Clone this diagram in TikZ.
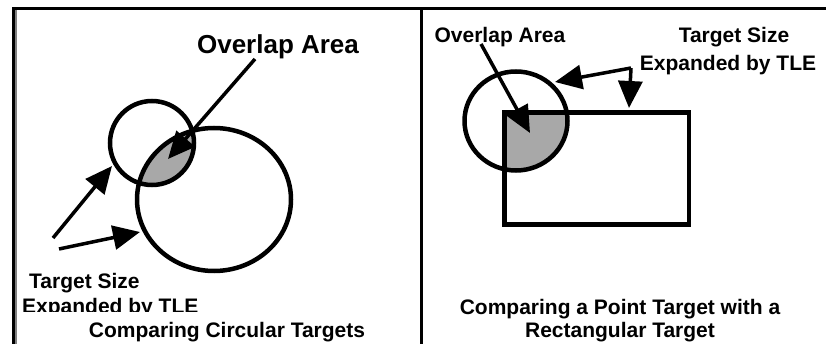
\documentclass[tikz,border=0pt]{standalone}
\usepackage{fontspec}
\setmainfont{Liberation Sans}
\usetikzlibrary{arrows.meta}
\definecolor{ovgray}{HTML}{A8A8A8}
\begin{document}
\begin{tikzpicture}[x=1pt,y=-1pt,
  lbl/.style={font=\bfseries\fontsize{21}{24}\selectfont, inner sep=0pt, anchor=base},
  bigl/.style={font=\bfseries\fontsize{26}{30}\selectfont, inner sep=0pt, anchor=base},
  outl/.style={draw=black, line width=4.5pt},
  arr/.style={draw=black, line width=3.5pt, -{Triangle[length=27pt,width=24pt]}},
  frameln/.style={draw=black, line width=3pt}]
\useasboundingbox (0,0) rectangle (829,344);
\fill[white] (0,0) rectangle (829,344);
% frame
\coordinate (tl) at (12,9);
\coordinate (tr) at (826,9);
\coordinate (bl) at (13.5,344);
\coordinate (dt) at (421.5,9);
\coordinate (db) at (421.5,344);
\draw[frameln] (tl) -- (tr);
\draw[black, line width=3pt] (13.5,7.5) -- (bl);
\draw[gray, line width=1.5pt] (16,10.5) -- (16,344);
\draw[frameln] (dt) -- (db);

% ---------- left panel ----------
\begin{scope}
  \clip (152,143) circle [radius=42pt];
  \fill[ovgray] (214,199.5) ellipse [x radius=77pt, y radius=71.5pt];
\end{scope}
\draw[outl] (152,143) circle [radius=42pt];
\draw[outl] (214,199.5) ellipse [x radius=77pt, y radius=71.5pt];

\node[bigl] (ovL) at (278,54) {Overlap Area};
\coordinate (ovLs) at (255,59);
\coordinate (ovLt) at (168,159);
\draw[arr] (ovLs) -- (ovLt);

\coordinate (a1s) at (53,238);
\coordinate (a1t) at (112,166);
\coordinate (a2s) at (59,249);
\coordinate (a2t) at (140,232);
\draw[arr] (a1s) -- (a1t);
\draw[arr] (a2s) -- (a2t);

\node[lbl, anchor=base west] (tsL) at (29,289) {Target Size};
\begin{scope}
  \clip (0,0) rectangle (420,311);
  \node[lbl, anchor=base west] (exL) at (22,313) {Expanded by TLE};
\end{scope}
\node[lbl] (capL) at (227,337) {Comparing Circular Targets};

% ---------- right panel ----------
\begin{scope}
  \clip (516,121) ellipse [x radius=51.5pt, y radius=49.5pt];
  \fill[ovgray] (504.5,112.5) rectangle (689,224.5);
\end{scope}
\draw[outl] (504.5,112.5) rectangle (689,224.5);
\draw[outl] (516,121) ellipse [x radius=51.5pt, y radius=49.5pt];

\node[lbl] (ovR) at (500,43) {Overlap Area};
\node[lbl] (tsR) at (734,43) {Target Size};
\node[lbl] (exR) at (728,71) {Expanded by TLE};

\coordinate (ovRs) at (481,44);
\coordinate (ovRt) at (530,133);
\draw[arr] (ovRs) -- (ovRt);

\coordinate (cr) at (631,68);
\coordinate (crt1) at (555,82);
\coordinate (crt2) at (629,108);
\draw[arr] (cr) -- (crt1);
\draw[arr] (cr) -- (crt2);

\node[lbl] (capR1) at (620,314) {Comparing a Point Target with a};
\node[lbl] (capR2) at (620,337) {Rectangular Target};
\end{tikzpicture}
\end{document}
